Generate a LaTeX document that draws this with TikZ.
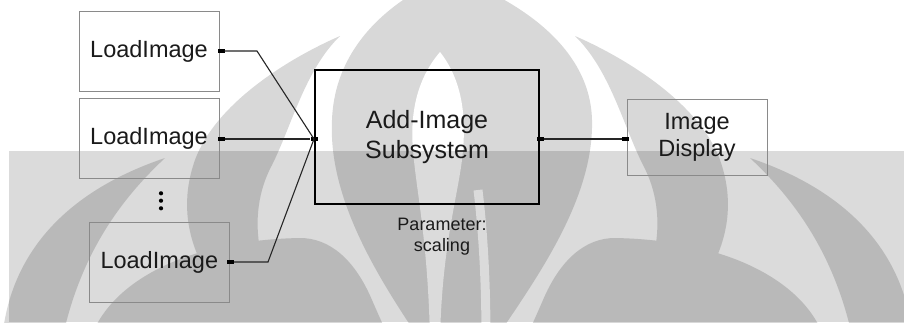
\documentclass[tikz,border=0pt]{standalone}
\usepackage{fontspec}
\setmainfont{Liberation Sans}
\begin{document}
\begin{tikzpicture}[x=1pt,y=-1pt,
  wm/.style={fill=wmgray},
  box/.style={draw=boxgray, line width=0.9pt, minimum width=140pt, minimum height=80pt,
    inner sep=0pt, align=center, text=ink, font=\fontsize{23.5}{27}\selectfont},
  subsys/.style={draw=black, line width=1.4pt, minimum width=224pt, minimum height=134pt,
    inner sep=0pt, align=center, text=ink, font=\fontsize{25}{29.5}\selectfont},
  port/.style={fill=black, draw=none, minimum width=7pt, minimum height=4pt, inner sep=0pt},
  wire/.style={draw=black!85, line width=1.1pt},
  dotnode/.style={circle, fill=black, minimum size=4.2pt, inner sep=0pt},
  note/.style={align=center, text=ink, inner sep=0pt, font=\fontsize{18}{21}\selectfont}]
\definecolor{wmgray}{HTML}{D8D8D8}
\definecolor{boxgray}{HTML}{8A8A8A}
\definecolor{ink}{HTML}{1A1A1A}
\useasboundingbox (0,0) rectangle (904,322);
\fill[white] (0,0) rectangle (904,322);

% ---- background emblem ----
\begin{scope}
  \clip (0,0) rectangle (904,322);
  % central dome
  \fill[wm] (450,-25) .. controls (400,-5) and (335,40) .. (332,120)
    .. controls (328,200) and (380,280) .. (420,340) -- (495,340)
    .. controls (535,280) and (594,200) .. (592,120)
    .. controls (590,40) and (505,-5) .. (450,-25) -- cycle;
  % light leaf inside the dome
  \fill[white] (440,52) .. controls (416,80) and (410,115) .. (413,150)
    .. controls (416,190) and (428,240) .. (430,340) -- (440,340)
    .. controls (442,240) and (460,190) .. (463,150)
    .. controls (466,115) and (462,80) .. (440,52) -- cycle;
  \draw[white, line width=9pt] (478,190) .. controls (484,240) and (486,290) .. (486,340);
  % side pieces: left half as drawn, right half mirrored about x = 470
  \foreach \s/\ax in {1/445,-1/470}{
    \begin{scope}[shift={(\ax,0)}, xscale=\s, shift={(-445,0)}]
      % crescent beside the dome
      \fill[wm] (340,36) .. controls (285,60) and (215,105) .. (195,160)
        .. controls (172,225) and (200,285) .. (265,340) -- (310,340)
        .. controls (255,285) and (245,215) .. (272,165)
        .. controls (292,125) and (305,70) .. (340,36) -- cycle;
      % outer sweep
      \fill[wm] (2,340) .. controls (10,250) and (70,190) .. (165,158)
        .. controls (120,200) and (80,255) .. (62,340) -- cycle;
      % lower sweep under the side boxes
      \fill[wm] (90,340) .. controls (110,280) and (190,240) .. (300,238)
        .. controls (330,238) and (355,260) .. (372,300)
        .. controls (385,330) and (390,340) .. (392,340) -- cycle;
    \end{scope}
  }
\end{scope}
% darker band across the lower part
\fill[black, opacity=0.14] (9,151) rectangle (904,322);

% ---- blocks ----
\node[box] (load1) at (149,51) {LoadImage};
\node[box] (load2) at (149,138.5) {LoadImage};
\node[box] (load3) at (159.3,262.2) {LoadImage};
\node[subsys] (add) at (427,137) {Add-Image\\Subsystem};
\node[box, minimum height=76pt] (disp) at (697,137) {Image\\Display};

\node[dotnode] (d1) at (161,193.3) {};
\node[dotnode] (d2) at (161,200.7) {};
\node[dotnode] (d3) at (161,208.3) {};

\node[note] (param) at (442,236.5) {Parameter:\\scaling};

% ---- ports ----
\node[port] (p1) at (221,51) {};
\node[port] (p2) at (221,139) {};
\node[port] (p3) at (230.5,262) {};
\node[port] (pin) at (314,139) {};
\node[port] (pout) at (540.5,139) {};
\node[port] (pdisp) at (625.5,139) {};

% ---- connectors ----
\coordinate (b1) at (257,51);
\coordinate (b3) at (268,262);
\draw[wire] (p1.east) -- (b1) -- (pin.center);
\draw[wire] (p2.east) -- (pin.west);
\draw[wire] (p3.east) -- (b3) -- (pin.center);
\draw[wire] (pout.east) -- (pdisp.west);
\end{tikzpicture}
\end{document}
